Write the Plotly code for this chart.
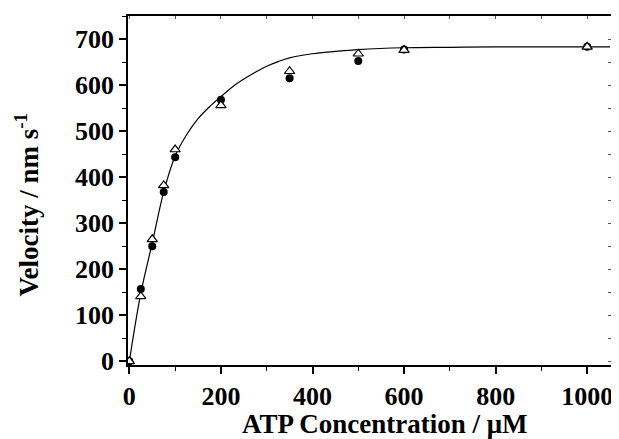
import plotly.graph_objects as go

# Data
atp = [0, 25, 50, 75, 100, 200, 350, 500, 600, 1000]
vel_circle = [0, 157, 250, 368, 443, 568, 615, 652, 677, 683]
vel_triangle = [0, 141, 265, 382, 460, 556, 630, 668, 676, 683]

fit_x = [0, 25, 50, 75, 100, 125, 150, 175, 200, 225, 250, 275, 300, 325, 350, 400, 450, 500, 600, 700, 800, 1050]
fit_y = [0, 148, 257, 368, 446, 492, 527, 553, 575, 596, 613, 628, 641, 651, 659, 668, 673, 677, 681, 682, 683, 683]

x_ticks = [0, 200, 400, 600, 800, 1000]
y_ticks = [0, 100, 200, 300, 400, 500, 600, 700]

XR = [-3, 1052]
YR = [-8, 750]
FONT = "Liberation Serif"

fig = go.Figure()
fig.add_trace(go.Scatter(x=fit_x, y=fit_y, mode="lines", line=dict(color="black", width=1.2, shape="spline", smoothing=1.0),
                         hoverinfo="skip", showlegend=False))
fig.add_trace(go.Scatter(x=atp, y=vel_circle, mode="markers",
                         marker=dict(symbol="circle", size=8, color="black"), showlegend=False))
fig.add_trace(go.Scatter(x=atp, y=vel_triangle, mode="markers",
                         marker=dict(symbol="triangle-up", size=9, color="white", line=dict(color="black", width=1.2)),
                         showlegend=False))
# invisible trace for mirrored inner tick axes
fig.add_trace(go.Scatter(x=[XR[0]], y=[YR[0]], xaxis="x2", yaxis="y2", mode="markers",
                         marker=dict(opacity=0), hoverinfo="skip", showlegend=False))

fig.update_layout(
    width=611, height=431,
    margin=dict(l=120, r=8, t=6, b=74),
    plot_bgcolor="white", paper_bgcolor="white",
    font=dict(family=FONT, color="black"),
    xaxis=dict(range=XR, tickvals=x_ticks, showgrid=False, zeroline=False,
               showline=True, linecolor="black", linewidth=1.5, mirror=True,
               ticks="outside", ticklen=7, tickwidth=1.5, tickcolor="black",
               minor=dict(ticks="outside", ticklen=4, tickwidth=1.2, dtick=100, tickcolor="black", showgrid=False),
               tickfont=dict(family=FONT, size=26, weight="bold", color="black")),
    yaxis=dict(range=YR, tickvals=y_ticks, showgrid=False, zeroline=False,
               showline=True, linecolor="black", linewidth=1.5, mirror=True,
               ticks="outside", ticklen=7, tickwidth=1.5, tickcolor="black",
               minor=dict(ticks="outside", ticklen=4, tickwidth=1.2, dtick=50, tickcolor="black", showgrid=False),
               tickfont=dict(family=FONT, size=26, weight="bold", color="black")),
    xaxis2=dict(range=XR, overlaying="x", side="top", anchor="y2", dtick=100, tick0=0,
                ticks="inside", ticklen=3, tickwidth=1, tickcolor="#555",
                showticklabels=False, showgrid=False, zeroline=False, showline=False),
    yaxis2=dict(range=YR, overlaying="y", side="right", anchor="x2", dtick=50, tick0=0,
                ticks="inside", ticklen=3, tickwidth=1, tickcolor="#555",
                showticklabels=False, showgrid=False, zeroline=False, showline=False),
    annotations=[
        dict(text="<b>ATP Concentration / μM</b>", xref="paper", yref="paper",
             x=0.532, y=-0.168, xanchor="center", yanchor="middle", showarrow=False,
             font=dict(family=FONT, size=27, color="black")),
        dict(text="<b>Velocity / nm s<sup>-1</sup></b>", xref="paper", yref="paper",
             x=-0.209, y=0.46, xanchor="center", yanchor="middle", showarrow=False, textangle=-90,
             font=dict(family=FONT, size=27, color="black")),
    ],
)

fig.write_html("out.html")
